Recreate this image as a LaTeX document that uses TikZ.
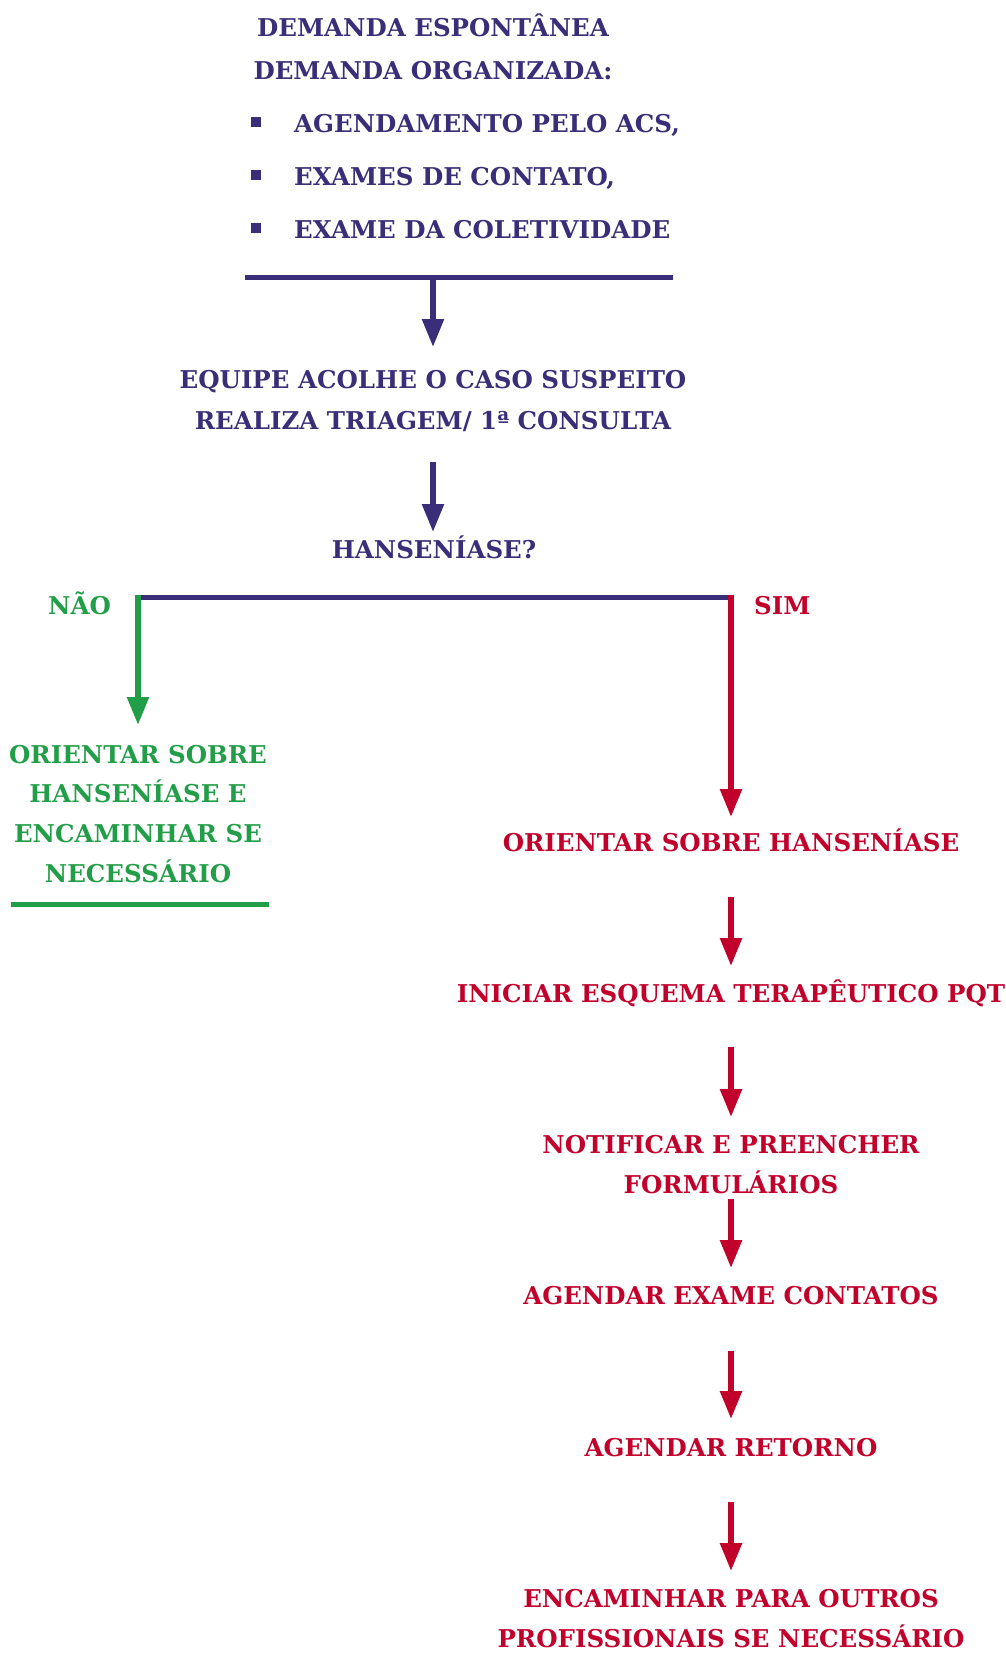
\documentclass[tikz,border=0pt]{standalone}
\usepackage{fontspec}
\setmainfont{DejaVu Serif}
\usetikzlibrary{arrows.meta,calc}
\definecolor{navyc}{HTML}{3A2E78}
\definecolor{redc}{HTML}{C1002B}
\definecolor{greenc}{HTML}{239E48}
\tikzset{
  txt/.style={inner sep=0pt, anchor=base, font=\fontsize{24.5}{24.5}\selectfont\bfseries},
  ltxt/.style={txt, anchor=base west},
  bul/.style={fill=navyc, inner sep=0pt, minimum size=10pt, draw=none},
  rule/.style={line width=5pt},
  arr/.style={line width=5.5pt, -{Triangle[width=21pt,length=28pt]}},
}
\begin{document}
\begin{tikzpicture}[x=1pt,y=-1pt]
\useasboundingbox (0,0) rectangle (1006,1662);
% top block
\node[txt,text=navyc] (d1) at (433,37) {DEMANDA ESPONTÂNEA};
\node[txt,text=navyc] (d2) at (433,79) {DEMANDA ORGANIZADA:};
\node[bul] (b1) at (256,122) {};
\node[bul] (b2) at (256,175) {};
\node[bul] (b3) at (256,228) {};
\node[ltxt,text=navyc] (i1) at (294,132) {AGENDAMENTO PELO ACS,};
\node[ltxt,text=navyc] (i2) at (294,185) {EXAMES DE CONTATO,};
\node[ltxt,text=navyc] (i3) at (294,238) {EXAME DA COLETIVIDADE};
\coordinate (l1) at (245,277);
\coordinate (l2) at (673,277);
\coordinate (lm) at (433,277);
\draw[rule,navyc] (l1) -- (l2);
\node[txt,text=navyc] (equipe) at (433,388) {EQUIPE ACOLHE O CASO SUSPEITO};
\node[txt,text=navyc] (realiza) at (433,429) {REALIZA TRIAGEM/ 1ª CONSULTA};
\node[txt,text=navyc] (hans) at (434,558) {HANSENÍASE?};
\draw[arr,navyc] (lm) -- ($(equipe.base)+(0,-41)$);
\draw[arr,navyc] ($(realiza.base)+(0,33)$) -- ($(realiza.base)+(0,103)$);
% branch
\coordinate (bl) at (138,597);
\coordinate (br) at (731,597);
\draw[rule,navyc] (bl) -- (br);
\node[ltxt,text=greenc] (nao) at (48,614) {NÃO};
\node[ltxt,text=redc] (sim) at (754,614) {SIM};
% green branch
\node[txt,text=greenc] (g1) at (138,763) {ORIENTAR SOBRE};
\node[txt,text=greenc] (g2) at (138,802) {HANSENÍASE E};
\node[txt,text=greenc] (g3) at (138,842) {ENCAMINHAR SE};
\node[txt,text=greenc] (g4) at (138,882) {NECESSÁRIO};
\draw[arr,greenc] ([yshift=2.5pt]bl) -- ($(g1.base)+(0,-38)$);
\coordinate (gl1) at (11,904);
\coordinate (gl2) at (269,904);
\draw[rule,greenc] (gl1) -- (gl2);
% red branch
\node[txt,text=redc] (r1) at (731,851) {ORIENTAR SOBRE HANSENÍASE};
\node[txt,text=redc] (r2) at (731,1002) {INICIAR ESQUEMA TERAPÊUTICO PQT};
\node[txt,text=redc] (r3a) at (731,1153) {NOTIFICAR E PREENCHER};
\node[txt,text=redc] (r3b) at (731,1193) {FORMULÁRIOS};
\node[txt,text=redc] (r4) at (731,1304) {AGENDAR EXAME CONTATOS};
\node[txt,text=redc] (r5) at (731,1456) {AGENDAR RETORNO};
\node[txt,text=redc] (r6a) at (731,1607) {ENCAMINHAR PARA OUTROS};
\node[txt,text=redc] (r6b) at (731,1647) {PROFISSIONAIS SE NECESSÁRIO};
\draw[arr,redc] ([yshift=2.5pt]br) -- ($(r1.base)+(0,-34)$);
\draw[arr,redc] ($(r1.base)+(0,46)$) -- ($(r2.base)+(0,-36)$);
\draw[arr,redc] ($(r2.base)+(0,45)$) -- ($(r3a.base)+(0,-36)$);
\draw[arr,redc] ($(r3b.base)+(0,6)$) -- ($(r4.base)+(0,-36)$);
\draw[arr,redc] ($(r4.base)+(0,47)$) -- ($(r5.base)+(0,-37)$);
\draw[arr,redc] ($(r5.base)+(0,46)$) -- ($(r6a.base)+(0,-36)$);
\end{tikzpicture}
\end{document}
